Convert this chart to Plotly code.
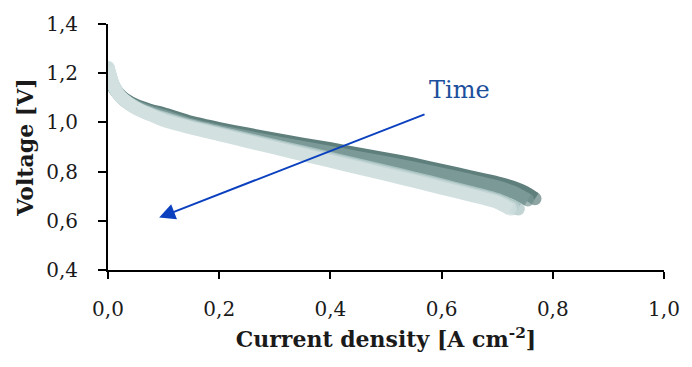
import plotly.graph_objects as go

# Current density [A cm-2] and voltage [V] for successive polarization curves (dark = earliest)
x1 = [0.0, 0.005, 0.01, 0.02, 0.03, 0.05, 0.075, 0.1, 0.15, 0.2, 0.25, 0.3, 0.35, 0.4, 0.45, 0.5, 0.55, 0.6, 0.65, 0.7, 0.73, 0.75, 0.768]
y1 = [1.20, 1.17, 1.145, 1.115, 1.095, 1.07, 1.05, 1.035, 1.0, 0.975, 0.953, 0.932, 0.912, 0.893, 0.872, 0.852, 0.83, 0.805, 0.78, 0.755, 0.735, 0.716, 0.69]

x2 = [0.0, 0.005, 0.01, 0.02, 0.03, 0.05, 0.075, 0.1, 0.15, 0.2, 0.25, 0.3, 0.35, 0.4, 0.45, 0.5, 0.55, 0.6, 0.65, 0.7, 0.73, 0.755]
y2 = [1.20, 1.17, 1.143, 1.112, 1.09, 1.065, 1.043, 1.026, 0.99, 0.964, 0.941, 0.919, 0.898, 0.878, 0.857, 0.836, 0.814, 0.79, 0.765, 0.738, 0.715, 0.685]

x3 = [0.0, 0.004, 0.008, 0.015, 0.025, 0.04, 0.06, 0.08, 0.1, 0.15, 0.2, 0.25, 0.3, 0.35, 0.4, 0.45, 0.5, 0.55, 0.6, 0.65, 0.7, 0.738]
y3 = [1.22, 1.19, 1.16, 1.13, 1.1, 1.075, 1.05, 1.033, 1.018, 0.985, 0.958, 0.932, 0.906, 0.88, 0.854, 0.828, 0.801, 0.774, 0.746, 0.717, 0.687, 0.648]

x4 = [0.0, 0.004, 0.008, 0.015, 0.025, 0.04, 0.06, 0.08, 0.1, 0.15, 0.2, 0.25, 0.3, 0.35, 0.4, 0.45, 0.5, 0.55, 0.6, 0.65, 0.7, 0.73]
y4 = [1.222, 1.19, 1.16, 1.128, 1.098, 1.072, 1.047, 1.029, 1.013, 0.98, 0.954, 0.927, 0.901, 0.874, 0.848, 0.821, 0.795, 0.768, 0.74, 0.711, 0.681, 0.649]

x5 = [0.0, 0.003, 0.007, 0.012, 0.02, 0.03, 0.05, 0.075, 0.1, 0.15, 0.2, 0.25, 0.3, 0.35, 0.4, 0.45, 0.5, 0.55, 0.6, 0.65, 0.7, 0.724]
y5 = [1.225, 1.2, 1.17, 1.14, 1.11, 1.09, 1.058, 1.032, 1.008, 0.977, 0.95, 0.923, 0.896, 0.869, 0.842, 0.815, 0.788, 0.761, 0.733, 0.705, 0.675, 0.647]

series_x = [x1, x2, x3, x4, x5]
series_y = [y1, y2, y3, y4, y5]
colors = ["#5E7F7C", "#7A9997", "#A8C2C2", "#C2D4D4", "#D2E0E0"]

x_ticks = [0.0, 0.2, 0.4, 0.6, 0.8, 1.0]
y_ticks = [0.4, 0.6, 0.8, 1.0, 1.2, 1.4]

LW = 13
fig = go.Figure()
for xs, ys, c in zip(series_x, series_y, colors):
    sizes = [LW] + [0] * (len(xs) - 2) + [LW]
    fig.add_trace(go.Scatter(
        x=xs, y=ys, mode="lines+markers",
        line=dict(color=c, width=LW, shape="spline", smoothing=0.6),
        marker=dict(color=c, size=sizes, line=dict(width=0)),
        showlegend=False, hoverinfo="skip"))

font_family = "DejaVu Serif, Liberation Serif, serif"

fig.add_annotation(x=0.092, y=0.613, ax=0.572, ay=1.035, xref="x", yref="y",
                   axref="x", ayref="y", showarrow=True, arrowhead=2,
                   arrowsize=1.6, arrowwidth=2, arrowcolor="#0B40BF", text="")
fig.add_annotation(x=0.632, y=1.131, xref="x", yref="y", text="Time", showarrow=False,
                   font=dict(family=font_family, size=24, color="#1C4F9C"))

fig.update_layout(
    width=692, height=367,
    margin=dict(l=108, r=21, t=22, b=97),
    paper_bgcolor="white", plot_bgcolor="white",
    separators=", ",
    font=dict(family=font_family, size=20, color="#1a1a1a"),
    xaxis=dict(range=[0, 1.0], tickvals=x_ticks, tickformat=".1f",
               showline=True, linecolor="black", linewidth=2,
               ticks="outside", ticklen=7, tickwidth=2, tickcolor="black",
               ticklabelstandoff=13, ticklabeloverflow="allow",
               showgrid=False, zeroline=False,
               title=dict(text="<b>Current density [A cm<sup>-2</sup>]</b>", standoff=12,
                          font=dict(family=font_family, size=22, color="#1a1a1a"))),
    yaxis=dict(range=[0.4, 1.4], tickvals=y_ticks, tickformat=".1f",
               showline=True, linecolor="black", linewidth=2,
               ticks="outside", ticklen=8, tickwidth=2, tickcolor="black",
               ticklabelstandoff=16,
               showgrid=False, zeroline=False,
               title=dict(text="<b>Voltage [V]</b>", standoff=6,
                          font=dict(family=font_family, size=22, color="#1a1a1a"))),
)

fig.write_html("out.html", config={"displayModeBar": False},
               post_script="document.body.style.margin='0px';document.body.style.overflow='hidden';")
